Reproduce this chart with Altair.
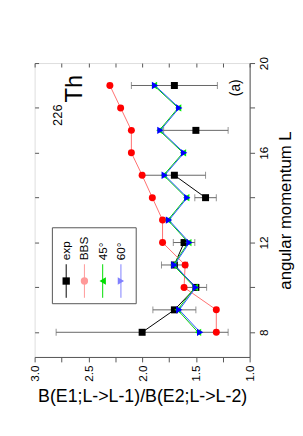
import altair as alt
import pandas as pd

# ---- data ----
L_theory = [8, 9, 10, 11, 12, 13, 14, 15, 16, 17, 18, 19]
bbs_ratio = [1.31, 1.31, 1.61, 1.60, 1.81, 1.81, 1.905, 2.00, 2.10, 2.10, 2.20, 2.30]
deg45_ratio = [1.48, 1.67, 1.51, 1.71, 1.57, 1.76, 1.59, 1.80, 1.62, 1.84, 1.665, 1.89]
deg60_ratio = [1.46, 1.655, 1.50, 1.70, 1.56, 1.75, 1.58, 1.79, 1.61, 1.83, 1.655, 1.88]

L_exp = [8, 9, 10, 11, 12, 14, 15, 17, 19]
exp_ratio = [2.00, 1.70, 1.50, 1.70, 1.61, 1.41, 1.70, 1.50, 1.70]
exp_err = [0.80, 0.20, 0.10, 0.12, 0.10, 0.10, 0.29, 0.30, 0.40]
exp_segment = [0, 0, 0, 0, 0, 1, 1, 2, 3]

x_ticks = [1.0, 1.25, 1.5, 1.75, 2.0, 2.25, 2.5, 2.75, 3.0]
y_ticks = [8, 10, 12, 14, 16, 18, 20]

legend_labels = ["exp", "BBS", "45°", "60°"]
legend_shapes = ["square", "circle", "triangle-left", "triangle-right"]
legend_points = ["#000000", "#ff0000", "#00ee00", "#0000ff"]
legend_lines = ["#000000", "#ff9999", "#00dd00", "#8080ff"]

FONT = "Liberation Sans"
W, H = 218, 298

theory = pd.DataFrame({"L": L_theory, "bbs": bbs_ratio, "d45": deg45_ratio, "d60": deg60_ratio})
exp = pd.DataFrame({"L": L_exp, "r": exp_ratio, "err": exp_err, "seg": exp_segment})
exp["lo"] = exp["r"] - exp["err"]
exp["hi"] = exp["r"] + exp["err"]

xs = alt.Scale(domain=[1.0, 3.0], reverse=True, nice=False, zero=False)
ys = alt.Scale(domain=[6.9, 20], nice=False, zero=False)

common_axis = dict(grid=False, labelFont=FONT, titleFont=FONT, domainColor="#555555",
                   tickColor="#555555", labelColor="#000000", titleColor="#000000",
                   titleFontWeight="normal", labelOverlap=False, labelFlush=False)

x_main = alt.Axis(orient="bottom", values=x_ticks, labelAngle=270, labelFontSize=12,
                  labelExpr="datum.value % 0.5 == 0 ? format(datum.value, '.1f') : ''",
                  tickSize=5, labelPadding=3, title="B(E1;L->L-1)/B(E2;L->L-2)",
                  titleFontSize=18, titlePadding=6, **common_axis)
y_main = alt.Axis(orient="right", values=y_ticks, labelAngle=270, labelAlign="center",
                  labelBaseline="top", labelFontSize=12,
                  labelExpr="datum.value % 4 == 0 ? datum.label : ''",
                  tickSize=5, labelPadding=4, title="angular momentum L",
                  titleAngle=270, titleBaseline="top", titleFontSize=17, titlePadding=8,
                  **common_axis)
x_mirror = alt.Axis(orient="top", values=x_ticks, labels=False, domain=False, tickSize=4,
                    offset=-4, title=None, grid=False, tickColor="#555555")
y_mirror = alt.Axis(orient="left", values=y_ticks, labels=False, domain=False, tickSize=4,
                    offset=-4, title=None, grid=False, tickColor="#555555")

axes_main = alt.Chart(theory).mark_point(opacity=0).encode(
    x=alt.X("bbs:Q", scale=xs, axis=x_main),
    y=alt.Y("L:Q", scale=ys, axis=y_main),
)
axes_mirror = alt.Chart(theory).mark_point(opacity=0).encode(
    x=alt.X("bbs:Q", scale=xs, axis=x_mirror),
    y=alt.Y("L:Q", scale=ys, axis=y_mirror),
)

X = lambda f: alt.X(f, type="quantitative", scale=xs, axis=None)
Yl = alt.Y("L:Q", scale=ys, axis=None)

err_bar = alt.Chart(exp).mark_rule(color="#666666", strokeWidth=1).encode(x=X("lo"), x2="hi", y=Yl)
cap_lo = alt.Chart(exp).mark_tick(orient="vertical", color="#666666", size=7, thickness=1).encode(x=X("lo"), y=Yl)
cap_hi = alt.Chart(exp).mark_tick(orient="vertical", color="#666666", size=7, thickness=1).encode(x=X("hi"), y=Yl)
exp_line = alt.Chart(exp).mark_line(color="#000000", strokeWidth=1).encode(
    x=X("r"), y=Yl, detail="seg:N", order="L:Q")
exp_pts = alt.Chart(exp).mark_point(shape="square", filled=True, color="#000000", size=50, opacity=1).encode(x=X("r"), y=Yl)

bbs_line = alt.Chart(theory).mark_line(color="#ff7070", strokeWidth=1).encode(x=X("bbs"), y=Yl, order="L:Q")
bbs_pts = alt.Chart(theory).mark_point(shape="circle", filled=True, color="#ff0000", size=50, opacity=1).encode(x=X("bbs"), y=Yl)
d45_line = alt.Chart(theory).mark_line(color="#00cc00", strokeWidth=1).encode(x=X("d45"), y=Yl, order="L:Q")
d45_pts = alt.Chart(theory).mark_point(shape="triangle-left", filled=True, color="#00ee00", size=55, opacity=1).encode(x=X("d45"), y=Yl)
d60_line = alt.Chart(theory).mark_line(color="#2255ff", strokeWidth=1).encode(x=X("d60"), y=Yl, order="L:Q")
d60_pts = alt.Chart(theory).mark_point(shape="triangle-right", filled=True, color="#0000ff", size=55, opacity=1).encode(x=X("d60"), y=Yl)

# ---- manual legend (rotated like the chart) ----
leg = pd.DataFrame({"name": legend_labels, "i": range(len(legend_labels))})
one = pd.DataFrame({"a": [0]})
leg_px = alt.X("px:Q", scale=None, axis=None)
col_pt = alt.Color("name:N", scale=alt.Scale(domain=legend_labels, range=legend_points), legend=None)
col_ln = alt.Color("name:N", scale=alt.Scale(domain=legend_labels, range=legend_lines), legend=None)
shp = alt.Shape("name:N", scale=alt.Scale(domain=legend_labels, range=legend_shapes), legend=None)

leg_base = alt.Chart(leg).transform_calculate(px="32 + datum.i * 18.5")
leg_box = alt.Chart(one).mark_rect(fill="white", stroke="#555555", strokeWidth=1).encode(
    x=alt.value(18), x2=alt.value(103), y=alt.value(167), y2=alt.value(244))
leg_lines = leg_base.mark_rule(strokeWidth=1).encode(x=leg_px, y=alt.value(204), y2=alt.value(238), color=col_ln)
leg_pts = leg_base.mark_point(filled=True, size=55, opacity=1).encode(x=leg_px, y=alt.value(221), color=col_pt, shape=shp)
leg_txt = leg_base.mark_text(angle=270, align="left", baseline="middle", font=FONT, fontSize=12, color="black").encode(
    x=leg_px, y=alt.value(200), text="name:N")

# ---- annotations ----
th_txt = alt.Chart(one).mark_text(angle=270, align="left", baseline="alphabetic", font=FONT, fontSize=24,
                                  color="black", text="Th").encode(x=alt.value(48), y=alt.value(40))
iso_txt = alt.Chart(one).mark_text(angle=270, align="right", baseline="alphabetic", font=FONT, fontSize=13,
                                   color="black", text="226").encode(x=alt.value(28), y=alt.value(42))
a_txt = alt.Chart(one).mark_text(angle=270, align="center", baseline="middle", font=FONT, fontSize=14,
                                 color="black", text="(a)").encode(x=alt.value(204), y=alt.value(25))

chart = alt.layer(
    axes_main, axes_mirror,
    err_bar, cap_lo, cap_hi, exp_line, exp_pts,
    bbs_line, bbs_pts, d45_line, d45_pts, d60_line, d60_pts,
    leg_box, leg_lines, leg_pts, leg_txt,
    th_txt, iso_txt, a_txt,
).resolve_axis(x="independent", y="independent").properties(
    width=W, height=H, autosize=alt.AutoSizeParams(type="none"),
    padding={"left": 27, "top": 53, "right": 46, "bottom": 55},
).configure_view(stroke="#555555", strokeWidth=1).configure(background="white")

chart.save("out.html", embed_options={"renderer": "svg", "actions": False})
